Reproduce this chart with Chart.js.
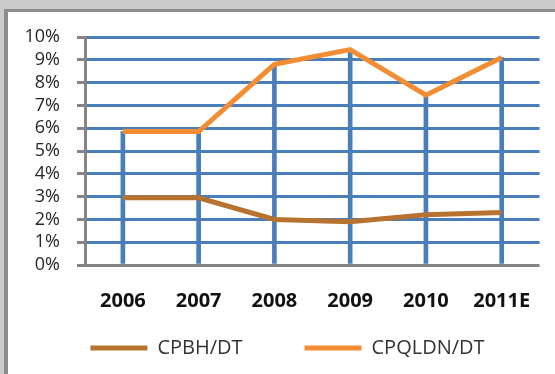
<!DOCTYPE html>
<html>
<head>
<meta charset="utf-8">
<script src="https://cdn.jsdelivr.net/npm/chart.js@4"></script>
<style>
  body { margin: 0; background: #cbcbcb; }
  #panel { position: absolute; left: 4px; top: 9px; width: 547px; height: 365px; background: #fff;
           border-left: 4px solid #8c8c8c; border-top: 3px solid #8c8c8c; }
  #myChart { position: absolute; left: 0; top: 0; }
</style>
</head>
<body>
<div id="panel"></div>
<canvas id="myChart" width="555" height="374"></canvas>
<script>
// datos del grafico
const anios = ['2006', '2007', '2008', '2009', '2010', '2011E']
const cpbh = [2.95, 2.95, 2.0, 1.9, 2.2, 2.3]          // CPBH/DT (%)
const cpqldn = [5.85, 5.85, 8.8, 9.45, 7.45, 9.1]      // CPQLDN/DT (%)
const nombres = ['CPBH/DT', 'CPQLDN/DT']
const ticksY = [0, 1, 2, 3, 4, 5, 6, 7, 8, 9, 10]

const azul = '#4a7ebb'
const gris = '#858585'

// la leyenda del original esta un poco a la derecha
const moverLeyenda = {
  id: 'moverLeyenda',
  afterLayout(chart) {
    chart.legend.left += 15
    chart.legend.right += 15
  }
}

new Chart(document.getElementById('myChart'), {
  type: 'line',
  data: {
    labels: anios,
    datasets: [
      {
        label: nombres[0],
        data: cpbh,
        borderColor: '#b8722f',
        backgroundColor: '#b8722f',
        borderWidth: 5,
        pointRadius: 0,
        tension: 0,
        order: 0
      },
      {
        label: nombres[1],
        data: cpqldn,
        borderColor: '#f28d33',
        backgroundColor: '#f28d33',
        borderWidth: 5,
        pointRadius: 0,
        tension: 0,
        order: 1
      },
      { // lineas de caida hasta el eje (drop lines)
        type: 'bar',
        label: 'drop',
        data: cpqldn,
        backgroundColor: azul,
        barThickness: 4,
        order: 5
      }
    ]
  },
  options: {
    responsive: false,
    animation: false,
    layout: { padding: { left: 0, right: 10, top: 37, bottom: 6 } },
    plugins: {
      tooltip: { enabled: false },
      legend: {
        position: 'bottom',
        labels: {
          usePointStyle: true,
          pointStyle: 'line',
          pointStyleWidth: 57,
          padding: 10,
          color: '#333',
          font: { family: 'Open Sans', size: 20 },
          generateLabels: (chart) => {
            const items = Chart.defaults.plugins.legend.labels.generateLabels(chart)
              .filter(i => i.datasetIndex < 2)
            items[0].text += '\u00a0'.repeat(10) // hueco entre las dos entradas
            return items
          }
        }
      }
    },
    scales: {
      x: {
        offset: true,
        grid: { display: false, drawTicks: false },
        border: { display: false },
        ticks: {
          padding: 24,
          color: '#111',
          font: { family: 'Open Sans', size: 20, weight: 'bold' }
        },
        afterFit: (scale) => { scale.height = 63 }
      },
      y: {
        min: 0,
        max: 10,
        afterBuildTicks: (scale) => { scale.ticks = ticksY.map(v => ({ value: v })) },
        grid: {
          color: (c) => c.tick && c.tick.value === 0 ? gris : azul,
          lineWidth: 3,
          tickColor: gris,
          tickLength: 8
        },
        border: { color: gris, width: 3 },
        ticks: {
          autoSkip: false,
          padding: 17,
          color: '#262626',
          font: { family: 'Open Sans', size: 18 },
          callback: (v) => v + '%'
        },
        afterFit: (scale) => { scale.width = 85 }
      }
    }
  },
  plugins: [moverLeyenda]
})
</script>
</body>
</html>
